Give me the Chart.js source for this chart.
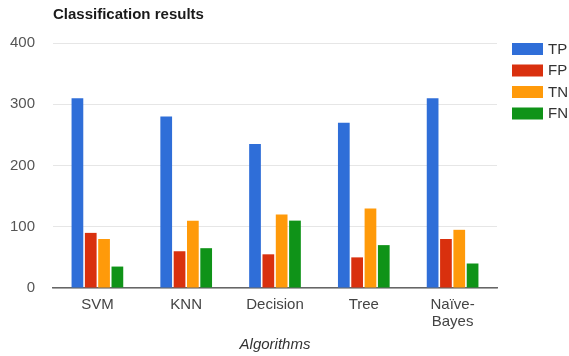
<!DOCTYPE html>
<html>
<head>
<meta charset="utf-8">
<script src="https://cdn.jsdelivr.net/npm/chart.js"></script>
<style>
  html, body { margin: 0; padding: 0; background: #fff; }
  #wrap { width: 569px; height: 356px; }
</style>
</head>
<body>
<div id="wrap"><canvas id="c" width="569" height="356"></canvas></div>
<script>
// Classification outcomes per algorithm
const categories = ['SVM', 'KNN', 'Decision', 'Tree', ['Naïve-', 'Bayes']];
const seriesNames = ['TP', 'FP', 'TN', 'FN'];
const tpValues = [310, 280, 235, 270, 310];
const fpValues = [90, 60, 55, 50, 80];
const tnValues = [80, 110, 120, 130, 95];
const fnValues = [35, 65, 110, 70, 40];
const yTicks = [0, 100, 200, 300, 400];
const chartTitle = 'Classification results';
const axisTitle = 'Algorithms';

const colors = ['#2f6ed8', '#d9300e', '#ff9a0a', '#0f9318'];
const series = [tpValues, fpValues, tnValues, fnValues];

const FONT = '"Liberation Sans", Arial, sans-serif';

// Title and side legend painted on the canvas
const decorations = {
  id: 'decorations',
  afterDraw(chart) {
    const ctx = chart.ctx;
    ctx.save();
    ctx.fillStyle = '#1a1a1a';
    ctx.font = 'bold 15px ' + FONT;
    ctx.textBaseline = 'middle';
    ctx.textAlign = 'left';
    ctx.fillText(chartTitle, 53, 15);

    ctx.font = '15px ' + FONT;
    chart.data.datasets.forEach((ds, i) => {
      const y = 43 + i * 21.5;
      ctx.fillStyle = ds.backgroundColor;
      ctx.fillRect(512, y, 31, 12);
      ctx.fillStyle = '#333';
      ctx.fillText(ds.label, 548, y + 6.5);
    });
    ctx.restore();
  }
};

new Chart(document.getElementById('c'), {
  type: 'bar',
  data: {
    labels: categories,
    datasets: seriesNames.map((name, i) => ({
      label: name,
      data: series[i],
      backgroundColor: colors[i],
      categoryPercentage: 0.6,
      barPercentage: 0.88
    }))
  },
  options: {
    responsive: false,
    animation: false,
    layout: { padding: { top: 43, right: 72, left: 0, bottom: 0 } },
    plugins: {
      legend: { display: false },
      title: { display: false },
      tooltip: { enabled: false }
    },
    scales: {
      x: {
        afterFit(s) { s.height = 68; },
        grid: { display: false, drawTicks: false },
        border: { display: true, color: '#666', width: 1.5 },
        ticks: {
          color: '#444',
          padding: 8,
          maxRotation: 0,
          autoSkip: false,
          font: { family: FONT, size: 15, lineHeight: 1.13 }
        },
        title: {
          display: true,
          text: axisTitle,
          color: '#333',
          padding: { top: 0, bottom: 2 },
          font: { family: FONT, size: 15, style: 'italic', lineHeight: 1.2 }
        }
      },
      y: {
        min: 0,
        max: 400,
        afterFit(s) { s.width = 53; },
        afterBuildTicks(s) { s.ticks = yTicks.map(v => ({ value: v })); },
        grid: { color: '#e6e6e6', drawTicks: false },
        border: { display: false },
        ticks: {
          color: '#555',
          padding: 18,
          font: { family: FONT, size: 15 }
        }
      }
    }
  },
  plugins: [decorations]
});
</script>
</body>
</html>
